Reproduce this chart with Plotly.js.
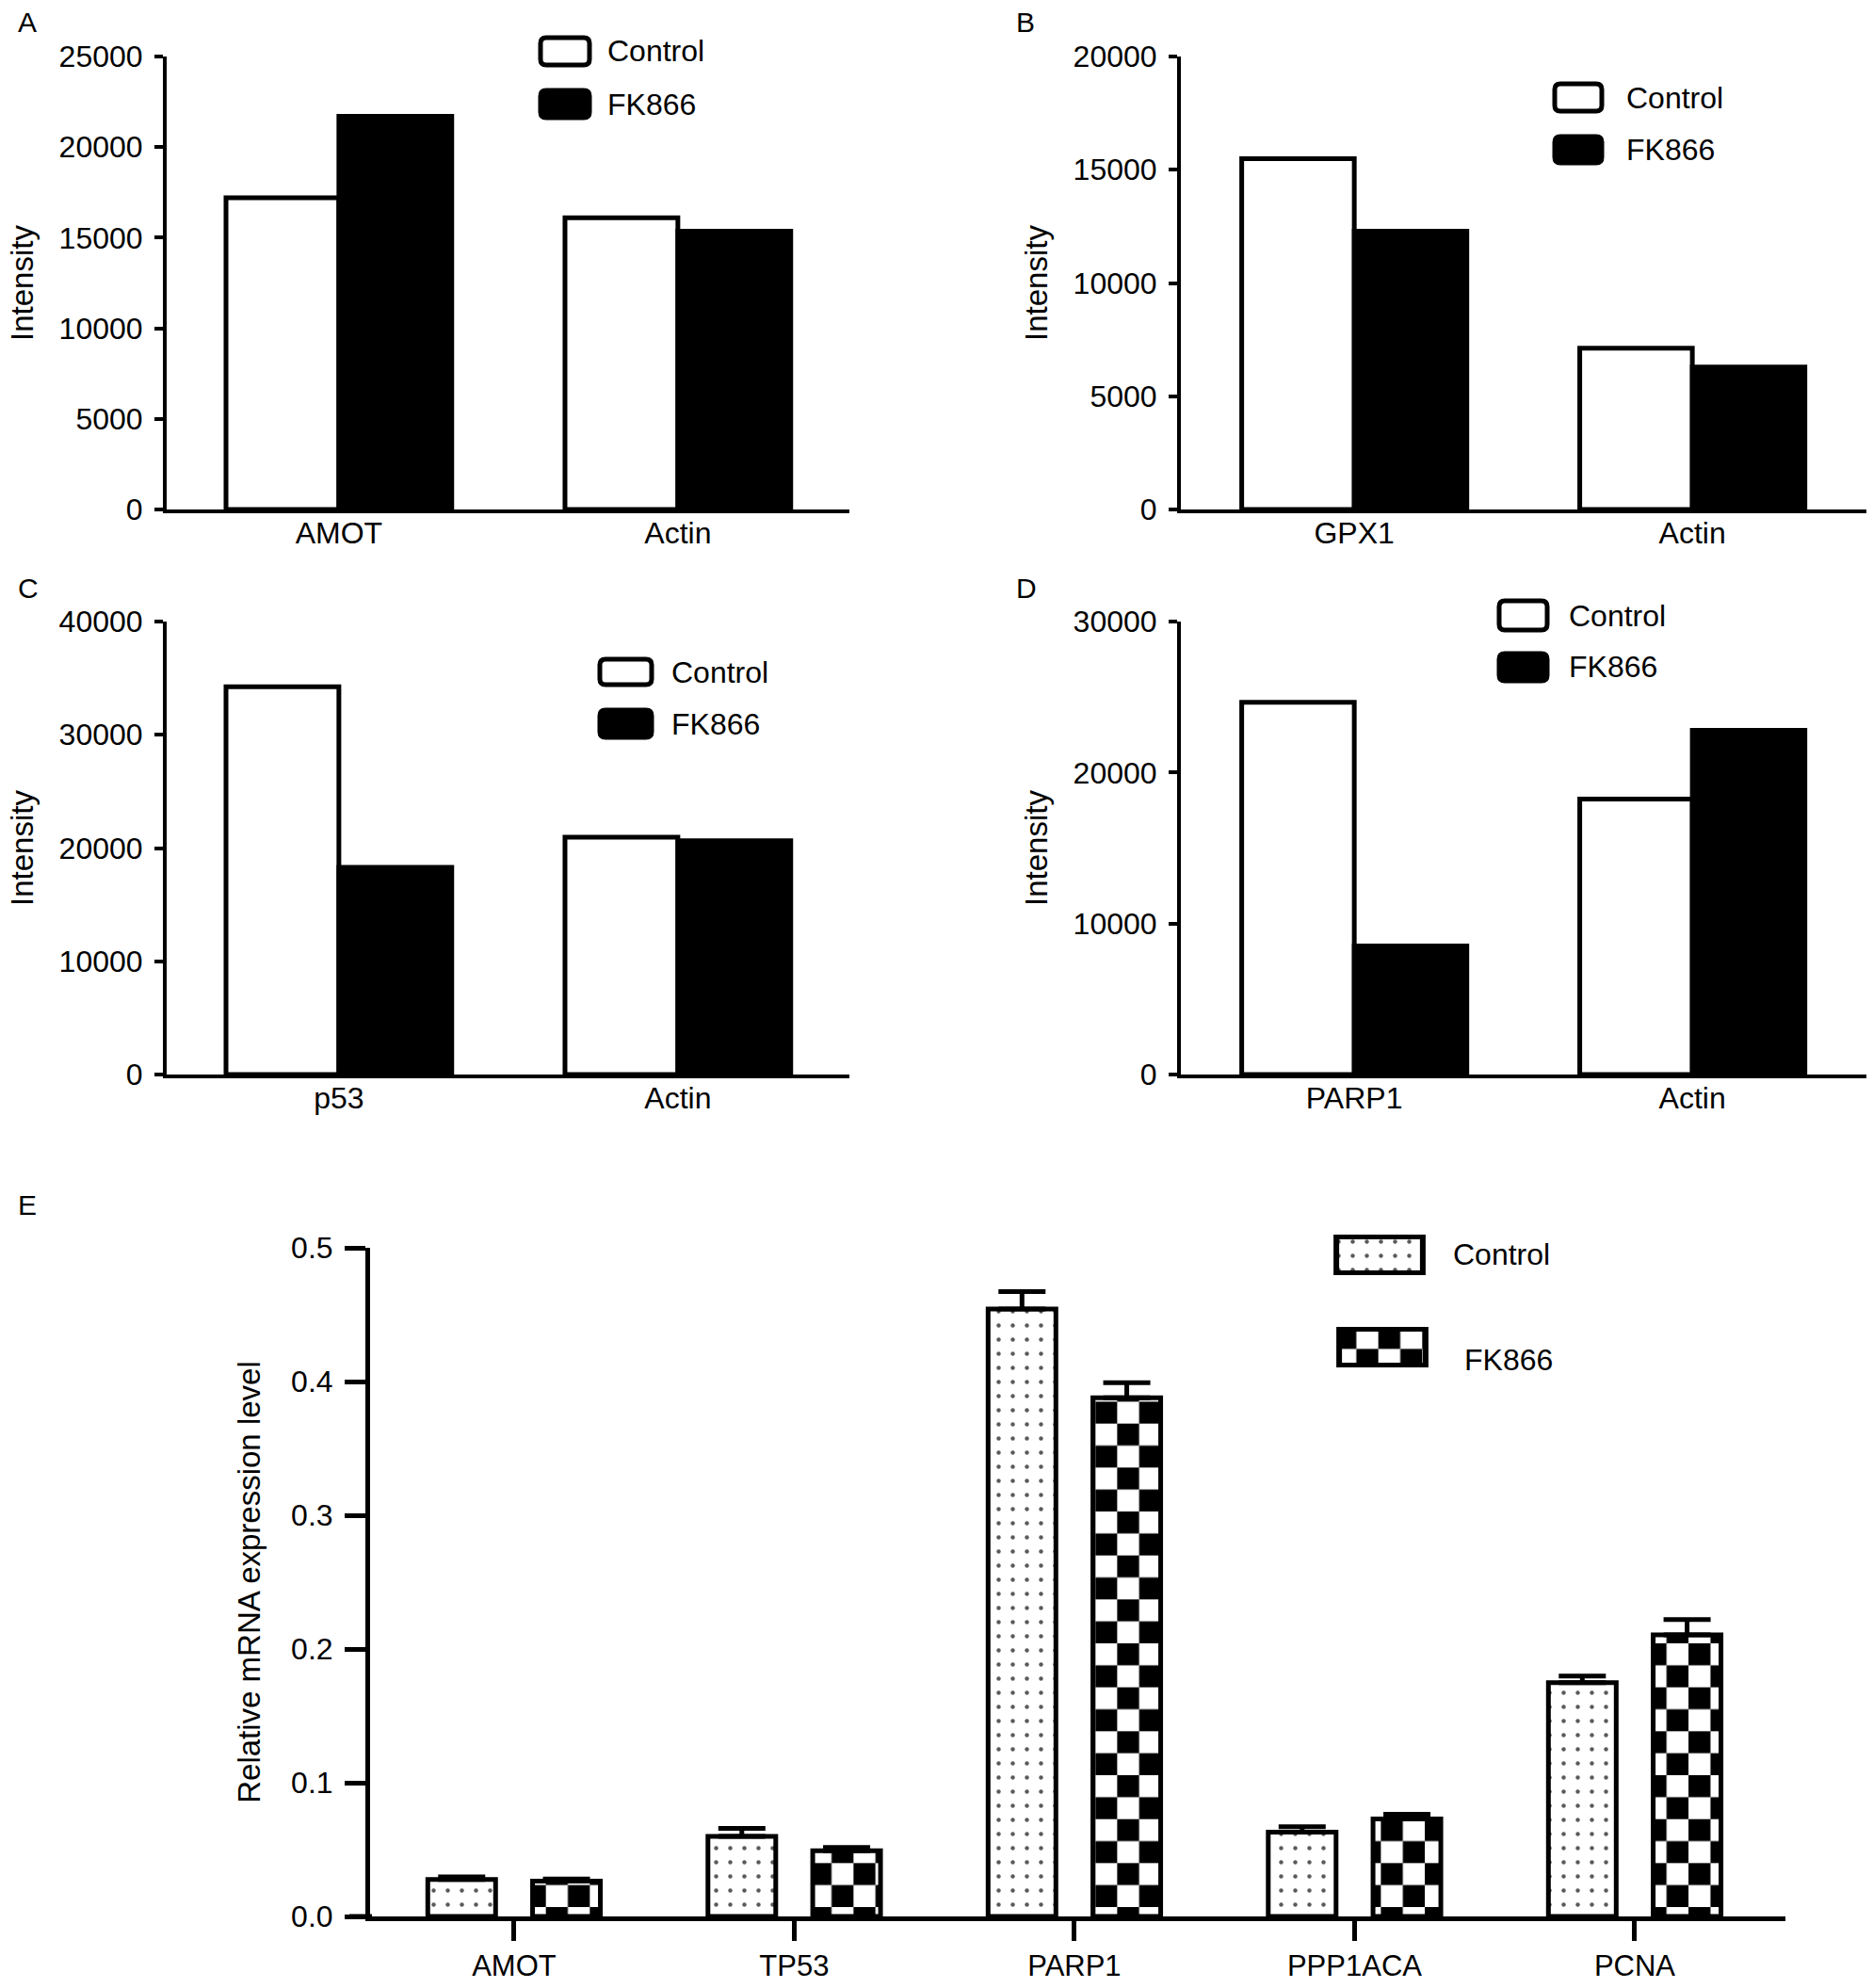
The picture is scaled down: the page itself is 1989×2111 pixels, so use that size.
<!DOCTYPE html>
<html>
<head>
<meta charset="utf-8">
<script src="https://cdn.plot.ly/plotly-3.0.1.min.js"></script>
<style>
   body { margin: 0; background: #fff; }
   #chart { width: 1989px; height: 2111px; }
</style>
</head>
<body>
<div id="chart"></div>
<script>

// ---------------------- Data ----------------------

const groupsA = ['AMOT', 'Actin'];
const controlA = [17200, 16100];
const fk866A = [21700, 15360];

const groupsB = ['GPX1', 'Actin'];
const controlB = [15490, 7120];
const fk866B = [12290, 6290];

const groupsC = ['p53', 'Actin'];
const controlC = [34240, 20960];
const fk866C = [18300, 20640];

const groupsD = ['PARP1', 'Actin'];
const controlD = [24650, 18240];
const fk866D = [8520, 22800];

const genesE = ['AMOT', 'TP53', 'PARP1', 'PPP1ACA', 'PCNA'];
const controlE = [0.0276, 0.0598, 0.4543, 0.0630, 0.1748];
const controlErrE = [0.0020, 0.0060, 0.0130, 0.0040, 0.0050];
const fk866E = [0.0264, 0.0492, 0.3878, 0.0728, 0.2106];
const fk866ErrE = [0.0016, 0.0024, 0.0114, 0.0036, 0.0114];

const seriesNames = ['Control', 'FK866'];
const panelLetters = ['A', 'B', 'C', 'D', 'E'];

// ---------------------- Layout helpers ----------------------

const W = 1989, H = 2111;
const FONT = 'Liberation Sans, Arial, sans-serif';
const CHECK = '#010101';   // marker colour, swapped for a checkerboard after drawing

function px(x) { return x / W; }
function py(y) { return 1 - y / H; }

const panels = [
   { groups: groupsA, control: controlA, fk: fk866A, ymax: 25000, dtick: 5000, left: 177, right: 902, top: 60, bottom: 541, range: [-0.508, 1.506],
     letter: [17, 24], legend: [574, 626, 40, 69, 96, 125, 643] },
   { groups: groupsB, control: controlB, fk: fk866B, ymax: 20000, dtick: 5000, left: 1254, right: 1982, top: 60, bottom: 541, range: [-0.513, 1.515],
     letter: [1077, 24], legend: [1651, 1701, 89, 118, 145, 173, 1725] },
   { groups: groupsC, control: controlC, fk: fk866C, ymax: 40000, dtick: 10000, left: 177, right: 902, top: 660, bottom: 1141, range: [-0.508, 1.506],
     letter: [17, 624], legend: [637, 692, 700, 727, 754, 783, 711] },
   { groups: groupsD, control: controlD, fk: fk866D, ymax: 30000, dtick: 10000, left: 1254, right: 1982, top: 660, bottom: 1141, range: [-0.513, 1.515],
     letter: [1077, 624], legend: [1592, 1643, 638, 669, 694, 723, 1664] },
];

const traces = [];
const shapes = [];
const annotations = [];
const layout = {
   width: W,
   height: H,
   margin: { t: 0, b: 0, l: 0, r: 0 },
   paper_bgcolor: 'white',
   plot_bgcolor: 'rgba(0,0,0,0)',
   barmode: 'overlay',
   showlegend: false,
   font: { family: FONT, size: 32, color: 'black' },
};

function axisName(i) { return i == 1 ? '' : String(i); }

function label(text, x, y, size, anchor = 'left') {
   annotations.push({
      text: text, xref: 'paper', yref: 'paper', x: px(x), y: py(y),
      xanchor: anchor, yanchor: 'middle', showarrow: false,
      font: { family: FONT, size: size, color: 'black' },
   });
}

// rounded legend box, pixel edges in, paper path out
function roundBox(l, r, t, b, fill) {
   const q = 6;
   const d = `M${px(l + q)},${py(t)} L${px(r - q)},${py(t)} Q${px(r)},${py(t)} ${px(r)},${py(t + q)} ` +
      `L${px(r)},${py(b - q)} Q${px(r)},${py(b)} ${px(r - q)},${py(b)} ` +
      `L${px(l + q)},${py(b)} Q${px(l)},${py(b)} ${px(l)},${py(b - q)} ` +
      `L${px(l)},${py(t + q)} Q${px(l)},${py(t)} ${px(l + q)},${py(t)} Z`;
   shapes.push({ type: 'path', xref: 'paper', yref: 'paper', path: d, fillcolor: fill, line: { color: 'black', width: 5 } });
}

// ---------------------- Panels A-D ----------------------

panels.forEach((p, k) => {
   const n = k + 1;
   const xa = 'x' + axisName(n), ya = 'y' + axisName(n);

   traces.push({
      type: 'bar', name: seriesNames[0], x: p.groups, y: p.control, xaxis: xa, yaxis: ya,
      width: 0.333, offset: -0.333, cliponaxis: false,
      marker: { color: 'white', line: { color: 'black', width: 5 } },
   });
   traces.push({
      type: 'bar', name: seriesNames[1], x: p.groups, y: p.fk, xaxis: xa, yaxis: ya,
      width: 0.333, offset: 0, cliponaxis: false,
      marker: { color: 'black', line: { color: 'black', width: 5 } },
   });

   layout['xaxis' + axisName(n)] = {
      domain: [px(p.left), px(p.right)], anchor: ya, range: p.range,
      type: 'category', showline: true, linewidth: 4, linecolor: 'black',
      ticks: '', showgrid: false, zeroline: false, ticklabelstandoff: -6,
      tickfont: { size: 32 }, fixedrange: true,
   };
   layout['yaxis' + axisName(n)] = {
      domain: [py(p.bottom), py(p.top)], anchor: xa, range: [0, p.ymax], dtick: p.dtick,
      tickformat: 'd', showline: true, linewidth: 4, linecolor: 'black',
      ticks: 'outside', ticklen: 9, tickwidth: 4, tickcolor: 'black',
      showgrid: false, zeroline: false, ticklabelstandoff: 6, tickfont: { size: 32 },
      title: { text: 'Intensity', font: { size: 33 }, standoff: 18 }, fixedrange: true,
   };

   // legend swatches
   const L = p.legend;
   roundBox(L[0], L[1], L[2], L[3], 'white');
   roundBox(L[0], L[1], L[4], L[5], 'black');
   label(seriesNames[0], L[6], (L[2] + L[3]) / 2, 32);
   label(seriesNames[1], L[6], (L[4] + L[5]) / 2, 32);
   label(panelLetters[k], p.letter[0], p.letter[1], 30);
});

// ---------------------- Panel E ----------------------

const dotPattern = { shape: '.', fgcolor: '#5a5a5a', bgcolor: 'white', size: 15, solidity: 0.07 };
const checkPattern = { shape: 'x', fgcolor: CHECK, bgcolor: 'white', size: 33, solidity: 0.3 };

traces.push({
   type: 'bar', name: seriesNames[0], x: genesE, y: controlE, xaxis: 'x5', yaxis: 'y5',
   width: 0.242, offset: -0.308, cliponaxis: false,
   marker: { color: 'white', pattern: dotPattern, line: { color: 'black', width: 5 } },
   error_y: { type: 'data', symmetric: false, array: controlErrE, arrayminus: controlErrE.map(() => 0),
      color: 'black', thickness: 5, width: 25 },
});
traces.push({
   type: 'bar', name: seriesNames[1], x: genesE, y: fk866E, xaxis: 'x5', yaxis: 'y5',
   width: 0.242, offset: 0.066, cliponaxis: false,
   marker: { color: 'white', pattern: checkPattern, line: { color: 'black', width: 5 } },
   error_y: { type: 'data', symmetric: false, array: fk866ErrE, arrayminus: fk866ErrE.map(() => 0),
      color: 'black', thickness: 5, width: 25 },
});

layout.xaxis5 = {
   domain: [px(393), px(1896)], anchor: 'y5', range: [-0.514, 4.538], type: 'category',
   showline: true, linewidth: 5, linecolor: 'black', ticks: 'outside', ticklen: 21, tickwidth: 5,
   tickcolor: 'black', showgrid: false, zeroline: false, ticklabelstandoff: 0,
   tickfont: { size: 31 }, fixedrange: true,
};
layout.yaxis5 = {
   domain: [py(2035), py(1325)], anchor: 'x5', range: [0, 0.5], dtick: 0.1, tickformat: '.1f',
   showline: true, linewidth: 5, linecolor: 'black', ticks: 'outside', ticklen: 22, tickwidth: 5,
   tickcolor: 'black', showgrid: false, zeroline: false, ticklabelstandoff: 6,
   tickfont: { size: 32 }, fixedrange: true,
   title: { text: 'Relative mRNA expression level', font: { size: 33 }, standoff: 24 },
};

// x axis line runs a little past the y axis, as in the figure
shapes.push({ type: 'line', xref: 'paper', yref: 'paper', x0: px(371), x1: px(395), y0: py(2035), y1: py(2035),
   line: { color: 'black', width: 5 } });

// legend swatches of panel E, drawn as single bars on small hidden axes so they share the fill patterns
const swatchE = [
   { n: 6, box: [1414, 1516, 1311, 1354], marker: { color: 'white', pattern: dotPattern, line: { color: 'black', width: 6 } } },
   { n: 7, box: [1417, 1519, 1409, 1452], marker: { color: 'white', pattern: checkPattern, line: { color: 'black', width: 6 } } },
];
swatchE.forEach((s, k) => {
   const b = s.box;
   traces.push({
      type: 'bar', name: seriesNames[k], x: [seriesNames[k]], y: [1], width: 0.9, cliponaxis: false,
      xaxis: 'x' + s.n, yaxis: 'y' + s.n, marker: s.marker, hoverinfo: 'skip',
   });
   layout['xaxis' + s.n] = { domain: [px(b[0]), px(b[1])], anchor: 'y' + s.n, range: [-0.5, 0.5], visible: false, fixedrange: true };
   layout['yaxis' + s.n] = { domain: [py(b[3]), py(b[2])], anchor: 'x' + s.n, range: [-0.05, 1.05], visible: false, fixedrange: true };
});
label(seriesNames[0], 1541, 1332, 32);
label(seriesNames[1], 1553, 1444, 32);
label(panelLetters[4], 17, 1279, 30);

layout.shapes = shapes;
layout.annotations = annotations;

// ---------------------- Checkerboard fill ----------------------

function checkerPatterns() {
   const ns = 'http://www.w3.org/2000/svg';
   document.querySelectorAll('pattern').forEach((pat) => {
      const html = pat.innerHTML;
      if (!html.includes('rgb(1, 1, 1)') && !html.includes(CHECK)) return;
      const s = parseFloat(pat.getAttribute('width'));
      const h = s / 2;
      while (pat.firstChild) pat.removeChild(pat.firstChild);
      [[0, 0, s, s, 'white'], [0, 0, h, h, 'black'], [h, h, h, h, 'black']].forEach((r) => {
         const el = document.createElementNS(ns, 'rect');
         el.setAttribute('x', r[0]);
         el.setAttribute('y', r[1]);
         el.setAttribute('width', r[2]);
         el.setAttribute('height', r[3]);
         el.setAttribute('fill', r[4]);
         pat.appendChild(el);
      });
   });
}

Plotly.newPlot('chart', traces, layout, { displayModeBar: false, staticPlot: true }).then(checkerPatterns);

</script>
</body>
</html>
